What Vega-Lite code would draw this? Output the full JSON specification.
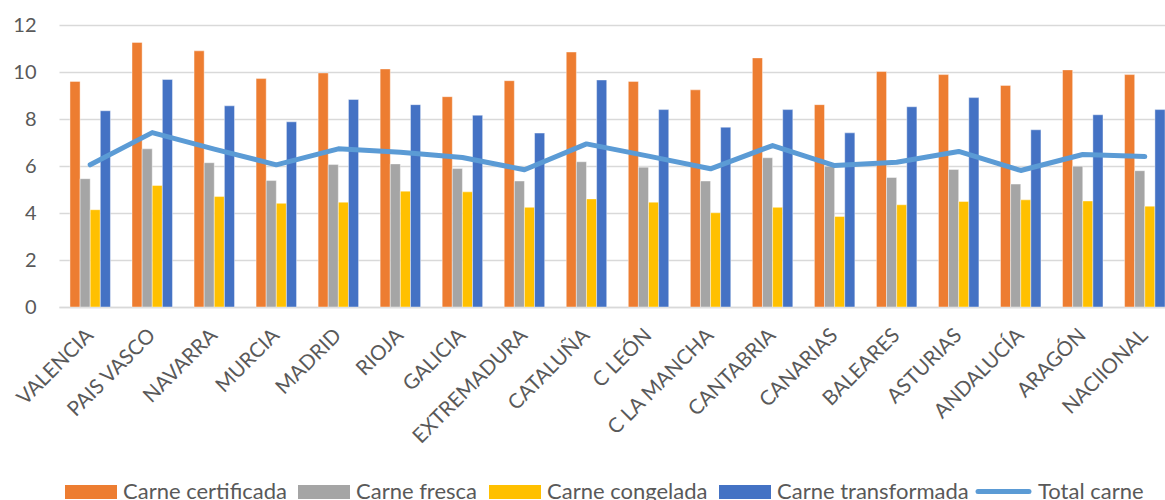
{
  "$schema": "https://vega.github.io/schema/vega-lite/v6.json",
  "width": 1117,
  "height": 282,
  "padding": {"left": 12, "top": 15, "right": 0, "bottom": 0},
  "background": "white",
  "config": {
    "font": "Lato",
    "view": {"stroke": null},
    "axis": {"labelFont": "Lato", "labelColor": "#595959", "labelFontSize": 20, "title": null}
  },
  "datasets": {
    "bars": [
      {"region": "VALENCIA", "serie": "Carne certificada", "value": 9.6},
      {"region": "VALENCIA", "serie": "Carne fresca", "value": 5.46},
      {"region": "VALENCIA", "serie": "Carne congelada", "value": 4.14},
      {"region": "VALENCIA", "serie": "Carne transformada", "value": 8.35},
      {"region": "PAIS VASCO", "serie": "Carne certificada", "value": 11.26},
      {"region": "PAIS VASCO", "serie": "Carne fresca", "value": 6.73},
      {"region": "PAIS VASCO", "serie": "Carne congelada", "value": 5.17},
      {"region": "PAIS VASCO", "serie": "Carne transformada", "value": 9.68},
      {"region": "NAVARRA", "serie": "Carne certificada", "value": 10.9},
      {"region": "NAVARRA", "serie": "Carne fresca", "value": 6.14},
      {"region": "NAVARRA", "serie": "Carne congelada", "value": 4.7},
      {"region": "NAVARRA", "serie": "Carne transformada", "value": 8.56},
      {"region": "MURCIA", "serie": "Carne certificada", "value": 9.72},
      {"region": "MURCIA", "serie": "Carne fresca", "value": 5.38},
      {"region": "MURCIA", "serie": "Carne congelada", "value": 4.41},
      {"region": "MURCIA", "serie": "Carne transformada", "value": 7.88},
      {"region": "MADRID", "serie": "Carne certificada", "value": 9.96},
      {"region": "MADRID", "serie": "Carne fresca", "value": 6.06},
      {"region": "MADRID", "serie": "Carne congelada", "value": 4.46},
      {"region": "MADRID", "serie": "Carne transformada", "value": 8.83},
      {"region": "RIOJA", "serie": "Carne certificada", "value": 10.13},
      {"region": "RIOJA", "serie": "Carne fresca", "value": 6.09},
      {"region": "RIOJA", "serie": "Carne congelada", "value": 4.93},
      {"region": "RIOJA", "serie": "Carne transformada", "value": 8.61},
      {"region": "GALICIA", "serie": "Carne certificada", "value": 8.95},
      {"region": "GALICIA", "serie": "Carne fresca", "value": 5.89},
      {"region": "GALICIA", "serie": "Carne congelada", "value": 4.9},
      {"region": "GALICIA", "serie": "Carne transformada", "value": 8.16},
      {"region": "EXTREMADURA", "serie": "Carne certificada", "value": 9.63},
      {"region": "EXTREMADURA", "serie": "Carne fresca", "value": 5.36},
      {"region": "EXTREMADURA", "serie": "Carne congelada", "value": 4.24},
      {"region": "EXTREMADURA", "serie": "Carne transformada", "value": 7.4},
      {"region": "CATALUÑA", "serie": "Carne certificada", "value": 10.85},
      {"region": "CATALUÑA", "serie": "Carne fresca", "value": 6.18},
      {"region": "CATALUÑA", "serie": "Carne congelada", "value": 4.6},
      {"region": "CATALUÑA", "serie": "Carne transformada", "value": 9.66},
      {"region": "C LEÓN", "serie": "Carne certificada", "value": 9.6},
      {"region": "C LEÓN", "serie": "Carne fresca", "value": 5.95},
      {"region": "C LEÓN", "serie": "Carne congelada", "value": 4.46},
      {"region": "C LEÓN", "serie": "Carne transformada", "value": 8.4},
      {"region": "C LA MANCHA", "serie": "Carne certificada", "value": 9.24},
      {"region": "C LA MANCHA", "serie": "Carne fresca", "value": 5.36},
      {"region": "C LA MANCHA", "serie": "Carne congelada", "value": 4.01},
      {"region": "C LA MANCHA", "serie": "Carne transformada", "value": 7.65},
      {"region": "CANTABRIA", "serie": "Carne certificada", "value": 10.6},
      {"region": "CANTABRIA", "serie": "Carne fresca", "value": 6.35},
      {"region": "CANTABRIA", "serie": "Carne congelada", "value": 4.24},
      {"region": "CANTABRIA", "serie": "Carne transformada", "value": 8.4},
      {"region": "CANARIAS", "serie": "Carne certificada", "value": 8.61},
      {"region": "CANARIAS", "serie": "Carne fresca", "value": 5.99},
      {"region": "CANARIAS", "serie": "Carne congelada", "value": 3.85},
      {"region": "CANARIAS", "serie": "Carne transformada", "value": 7.41},
      {"region": "BALEARES", "serie": "Carne certificada", "value": 10.02},
      {"region": "BALEARES", "serie": "Carne fresca", "value": 5.51},
      {"region": "BALEARES", "serie": "Carne congelada", "value": 4.35},
      {"region": "BALEARES", "serie": "Carne transformada", "value": 8.52},
      {"region": "ASTURIAS", "serie": "Carne certificada", "value": 9.89},
      {"region": "ASTURIAS", "serie": "Carne fresca", "value": 5.85},
      {"region": "ASTURIAS", "serie": "Carne congelada", "value": 4.49},
      {"region": "ASTURIAS", "serie": "Carne transformada", "value": 8.91},
      {"region": "ANDALUCÍA", "serie": "Carne certificada", "value": 9.43},
      {"region": "ANDALUCÍA", "serie": "Carne fresca", "value": 5.23},
      {"region": "ANDALUCÍA", "serie": "Carne congelada", "value": 4.56},
      {"region": "ANDALUCÍA", "serie": "Carne transformada", "value": 7.54},
      {"region": "ARAGÓN", "serie": "Carne certificada", "value": 10.09},
      {"region": "ARAGÓN", "serie": "Carne fresca", "value": 5.99},
      {"region": "ARAGÓN", "serie": "Carne congelada", "value": 4.51},
      {"region": "ARAGÓN", "serie": "Carne transformada", "value": 8.18},
      {"region": "NACIIONAL", "serie": "Carne certificada", "value": 9.89},
      {"region": "NACIIONAL", "serie": "Carne fresca", "value": 5.8},
      {"region": "NACIIONAL", "serie": "Carne congelada", "value": 4.29},
      {"region": "NACIIONAL", "serie": "Carne transformada", "value": 8.4}
    ],
    "total": [
      {"region": "VALENCIA", "serie": "Total carne", "value": 6.05},
      {"region": "PAIS VASCO", "serie": "Total carne", "value": 7.42},
      {"region": "NAVARRA", "serie": "Total carne", "value": 6.72},
      {"region": "MURCIA", "serie": "Total carne", "value": 6.05},
      {"region": "MADRID", "serie": "Total carne", "value": 6.73},
      {"region": "RIOJA", "serie": "Total carne", "value": 6.59},
      {"region": "GALICIA", "serie": "Total carne", "value": 6.36},
      {"region": "EXTREMADURA", "serie": "Total carne", "value": 5.84},
      {"region": "CATALUÑA", "serie": "Total carne", "value": 6.94},
      {"region": "C LEÓN", "serie": "Total carne", "value": 6.42},
      {"region": "C LA MANCHA", "serie": "Total carne", "value": 5.88},
      {"region": "CANTABRIA", "serie": "Total carne", "value": 6.87},
      {"region": "CANARIAS", "serie": "Total carne", "value": 6.02},
      {"region": "BALEARES", "serie": "Total carne", "value": 6.16},
      {"region": "ASTURIAS", "serie": "Total carne", "value": 6.62},
      {"region": "ANDALUCÍA", "serie": "Total carne", "value": 5.81},
      {"region": "ARAGÓN", "serie": "Total carne", "value": 6.49},
      {"region": "NACIIONAL", "serie": "Total carne", "value": 6.4}
    ]
  },
  "encoding": {
    "x": {
      "field": "region",
      "type": "nominal",
      "sort": ["VALENCIA", "PAIS VASCO", "NAVARRA", "MURCIA", "MADRID", "RIOJA", "GALICIA", "EXTREMADURA", "CATALUÑA", "C LEÓN", "C LA MANCHA", "CANTABRIA", "CANARIAS", "BALEARES", "ASTURIAS", "ANDALUCÍA", "ARAGÓN", "NACIIONAL"],
      "scale": {"paddingInner": 0.348, "paddingOuter": 0.177},
      "axis": {"labelAngle": -45, "labelBaseline": "middle", "labelFontSize": 20.5, "ticks": false, "domainColor": "#D9D9D9", "domainWidth": 1.5, "labelPadding": 25}
    },
    "y": {
      "field": "value",
      "type": "quantitative",
      "scale": {"domain": [0, 12], "nice": false},
      "axis": {"values": [0, 2, 4, 6, 8, 10, 12], "domain": false, "ticks": false, "gridColor": "#D9D9D9", "gridWidth": 1.5, "labelPadding": 23}
    }
  },
  "layer": [
    {
      "data": {"name": "bars"},
      "mark": {"type": "bar", "stroke": "#ffffff", "strokeWidth": 0.6, "strokeOpacity": 0.7},
      "encoding": {
        "xOffset": {"field": "serie", "type": "nominal", "sort": ["Carne certificada", "Carne fresca", "Carne congelada", "Carne transformada"]},
        "color": {
          "field": "serie",
          "type": "nominal",
          "scale": {"domain": ["Carne certificada", "Carne fresca", "Carne congelada", "Carne transformada"], "range": ["#ED7D31", "#A5A5A5", "#FFC000", "#4472C4"]},
          "legend": {"orient": "none", "legendX": 6, "legendY": 441, "direction": "horizontal", "title": null, "symbolType": "M-1,-0.27H1V0.27H-1Z", "symbolSize": 2704, "symbolStrokeWidth": 0, "labelFontSize": 22, "labelColor": "#595959", "labelFont": "Lato", "labelOffset": 6, "columnPadding": 11, "labelLimit": 300}
        }
      }
    },
    {
      "data": {"name": "total"},
      "mark": {"type": "line", "strokeWidth": 5, "strokeCap": "round", "strokeJoin": "round"},
      "encoding": {
        "stroke": {
          "field": "serie",
          "type": "nominal",
          "scale": {"domain": ["Total carne"], "range": ["#5B9BD5"]},
          "legend": {"orient": "none", "legendX": 916, "legendY": 438, "direction": "horizontal", "title": null, "symbolType": "M-0.98,0H0.98", "symbolSize": 2704, "symbolStrokeWidth": 5, "labelFontSize": 22, "labelColor": "#595959", "labelFont": "Lato", "labelOffset": 6, "labelLimit": 300,
            "encode": {"symbols": {"update": {"strokeCap": {"value": "round"}}}}}
        }
      }
    }
  ]
}
